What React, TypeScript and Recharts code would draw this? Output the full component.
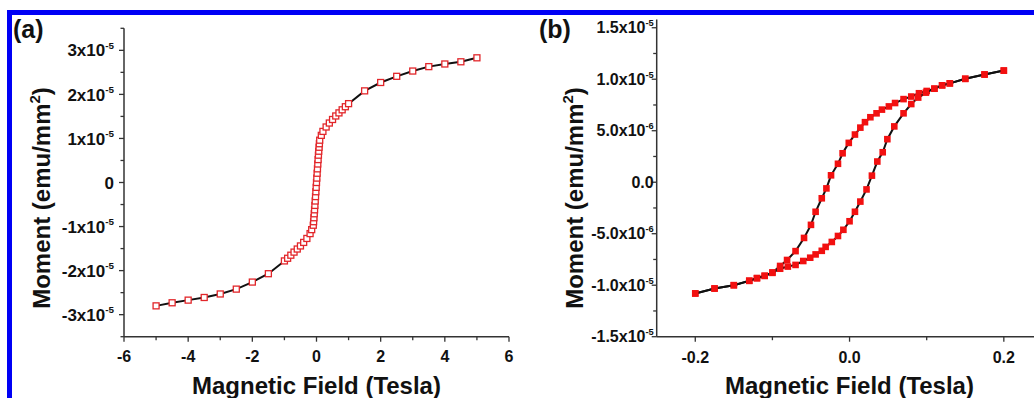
import React from 'react'
import { ScatterChart, Scatter, XAxis, YAxis } from 'recharts'

const FONT = '"Liberation Sans", Arial, Helvetica, sans-serif'
const AXIS = '#333'

// (a) field in tesla, moment in units of 1e-5 emu/mm^2
const fieldA = [-5, -4.5, -4, -3.5, -3, -2.5, -2, -1.5, -1, -0.9, -0.8, -0.7, -0.6, -0.5, -0.4, -0.3, -0.2, -0.15, -0.1, -0.09, -0.08, -0.07, -0.06, -0.05, -0.04, -0.03, -0.02, -0.01, 0, 0.01, 0.02, 0.03, 0.04, 0.05, 0.06, 0.07, 0.08, 0.09, 0.1, 0.15, 0.2, 0.3, 0.4, 0.5, 0.6, 0.7, 0.8, 0.9, 1, 1.5, 2, 2.5, 3, 3.5, 4, 4.5, 5]
const momentA = [-2.8, -2.73, -2.67, -2.61, -2.53, -2.42, -2.26, -2.07, -1.78, -1.72, -1.65, -1.58, -1.51, -1.44, -1.36, -1.27, -1.16, -1.07, -0.97, -0.89, -0.8, -0.71, -0.62, -0.52, -0.42, -0.32, -0.21, -0.11, 0, 0.1, 0.21, 0.31, 0.42, 0.52, 0.62, 0.71, 0.8, 0.88, 0.96, 1.07, 1.16, 1.26, 1.35, 1.43, 1.51, 1.58, 1.65, 1.72, 1.79, 2.08, 2.27, 2.41, 2.53, 2.63, 2.69, 2.74, 2.83]

// (b) moment in units of 1e-6 emu/mm^2, descending then ascending branch
const fieldDown = [0.2, 0.175, 0.15, 0.13, 0.12, 0.11, 0.1, 0.09, 0.08, 0.07, 0.059, 0.051, 0.042, 0.035, 0.027, 0.02, 0.014, 0.007, -0.001, -0.009, -0.015, -0.024, -0.03, -0.036, -0.044, -0.05, -0.059, -0.07, -0.081, -0.09, -0.1, -0.11, -0.12, -0.13, -0.15, -0.175, -0.2]
const momentDown = [10.84, 10.46, 10.04, 9.6, 9.41, 9.08, 8.86, 8.64, 8.32, 8.07, 7.69, 7.36, 7.05, 6.69, 6.31, 5.83, 5.3, 4.63, 3.82, 2.81, 1.79, 0.67, -0.6, -1.56, -2.87, -4.14, -5.41, -6.69, -7.55, -8.13, -8.76, -9.08, -9.3, -9.56, -10.0, -10.32, -10.8]
const fieldUp = [-0.2, -0.175, -0.15, -0.13, -0.12, -0.11, -0.1, -0.09, -0.08, -0.07, -0.06, -0.051, -0.044, -0.036, -0.031, -0.023, -0.015, -0.008, 0, 0.007, 0.014, 0.022, 0.029, 0.036, 0.043, 0.049, 0.058, 0.07, 0.08, 0.089, 0.099, 0.11, 0.12, 0.13, 0.15, 0.175, 0.2]
const momentUp = [-10.8, -10.32, -10.0, -9.58, -9.33, -9.1, -8.8, -8.4, -8.19, -8.03, -7.65, -7.33, -7.01, -6.66, -6.28, -5.8, -5.22, -4.62, -3.79, -2.87, -1.88, -0.7, 0.64, 2.01, 2.91, 4.18, 5.42, 6.69, 7.59, 8.22, 8.7, 9.08, 9.41, 9.6, 10.04, 10.46, 10.84]

// axis ticks
const xTicksA = [-6, -5, -4, -3, -2, -1, 0, 1, 2, 3, 4, 5, 6]
const xMajorA = [-6, -4, -2, 0, 2, 4, 6]
const xTextA = ['-6', '-4', '-2', '0', '2', '4', '6']
const yTicksA = [-3.5, -3, -2.5, -2, -1.5, -1, -0.5, 0, 0.5, 1, 1.5, 2, 2.5, 3, 3.5]
const yMajorA = [-3, -2, -1, 0, 1, 2, 3]
const yTextA = ['-3x10', '-2x10', '-1x10', '0', '1x10', '2x10', '3x10']
const yExpA = ['-5', '-5', '-5', '', '-5', '-5', '-5']

const xTicksB = [-0.2, -0.1, 0, 0.1, 0.2]
const xMajorB = [-0.2, 0, 0.2]
const xTextB = ['-0.2', '0.0', '0.2']
const yTicksB = [-15, -12.5, -10, -7.5, -5, -2.5, 0, 2.5, 5, 7.5, 10, 12.5, 15]
const yMajorB = [-15, -10, -5, 0, 5, 10, 15]
const yTextB = ['-1.5x10', '-1.0x10', '-5.0x10', '0.0', '5.0x10', '1.0x10', '1.5x10']
const yExpB = ['-5', '-5', '-6', '', '-6', '-5', '-5']

const toPoints = (xs: number[], ys: number[]) => xs.map((h, i) => ({ h, m: ys[i] }))

const pointsA = toPoints(fieldA, momentA)
const pointsDown = toPoints(fieldDown, momentDown)
const pointsUp = toPoints(fieldUp, momentUp)

function yTick(major: number[], text: string[], exp: string[], size: number, gap: number) {
  return (props: any) => {
    const { x, y, payload } = props
    const i = major.indexOf(payload.value)
    const len = i >= 0 ? 5 : 3.5
    return (
      <g>
        <line x1={x - len} y1={y} x2={x} y2={y} stroke={AXIS} strokeWidth={1.3} />
        {i >= 0 && (
          <text x={x - gap} y={y + size * 0.36} textAnchor="end" fontFamily={FONT} fontWeight="bold" fontSize={size} fill="#111">
            {text[i]}
            {exp[i] && (
              <tspan fontSize={size * 0.58} dy={-size * 0.45}>
                {exp[i]}
              </tspan>
            )}
          </text>
        )}
      </g>
    )
  }
}

function xTick(major: number[], text: string[], size: number, dy: number) {
  return (props: any) => {
    const { x, y, payload } = props
    const i = major.indexOf(payload.value)
    const len = i >= 0 ? 5 : 3.5
    return (
      <g>
        <line x1={x} y1={y} x2={x} y2={y + len} stroke={AXIS} strokeWidth={1.3} />
        {i >= 0 && (
          <text x={x} y={y + dy} textAnchor="middle" fontFamily={FONT} fontWeight="bold" fontSize={size} fill="#111">
            {text[i]}
          </text>
        )}
      </g>
    )
  }
}

const openSquare = (p: any) => (
  <rect x={p.cx - 3} y={p.cy - 3} width={6} height={6} fill="#fff" stroke="#e2262a" strokeWidth={1.3} />
)

const filledSquare = (p: any) => (
  <rect x={p.cx - 3.3} y={p.cy - 3.3} width={6.6} height={6.6} fill="#f21010" />
)

const axisLine = { stroke: AXIS, strokeWidth: 1.5 }
const seriesLine = { stroke: '#111', strokeWidth: 2 }
const titleStyle = { fontFamily: FONT, fontWeight: 'bold' as const, fontSize: 24, fill: '#111' }

export default function App() {
  return (
    <div style={{ position: 'absolute', left: 0, top: 0, width: 1034, height: 398, overflow: 'hidden', background: '#fff' }}>
      <style>{'body{margin:0;overflow:hidden}'}</style>

      <div style={{ position: 'absolute', left: 0, top: 0 }}>
        <ScatterChart width={520} height={398} margin={{ top: 28.3, right: 11, bottom: 0, left: 0 }}>
          <XAxis
            type="number"
            dataKey="h"
            domain={[-6, 6]}
            ticks={xTicksA}
            interval={0}
            height={61.3}
            tickSize={0}
            tickMargin={0}
            tickLine={false}
            axisLine={axisLine}
            tick={xTick(xMajorA, xTextA, 16, 25)}
          />
          <YAxis
            type="number"
            dataKey="m"
            domain={[-3.5, 3.5]}
            ticks={yTicksA}
            interval={0}
            width={124}
            tickSize={0}
            tickMargin={0}
            tickLine={false}
            axisLine={axisLine}
            tick={yTick(yMajorA, yTextA, yExpA, 17, 10)}
          />
          <Scatter data={pointsA} line={seriesLine} shape={openSquare} isAnimationActive={false} />
        </ScatterChart>
      </div>

      <div style={{ position: 'absolute', left: 520, top: 0 }}>
        <ScatterChart width={540} height={398} margin={{ top: 19.5, right: 17.6, bottom: 0, left: 0 }}>
          <XAxis
            type="number"
            dataKey="h"
            domain={[-0.25, 0.25]}
            ticks={xTicksB}
            interval={0}
            height={61.3}
            tickSize={0}
            tickMargin={0}
            tickLine={false}
            axisLine={axisLine}
            tick={xTick(xMajorB, xTextB, 16, 26)}
          />
          <YAxis
            type="number"
            dataKey="m"
            domain={[-15, 15.8]}
            ticks={yTicksB}
            interval={0}
            width={136.7}
            tickSize={0}
            tickMargin={0}
            tickLine={false}
            axisLine={axisLine}
            tick={yTick(yMajorB, yTextB, yExpB, 16, 3)}
          />
          <Scatter data={pointsDown} line={seriesLine} shape={filledSquare} isAnimationActive={false} />
          <Scatter data={pointsUp} line={seriesLine} shape={filledSquare} isAnimationActive={false} />
        </ScatterChart>
      </div>

      <svg width={1034} height={398} style={{ position: 'absolute', left: 0, top: 0, pointerEvents: 'none' }}>
        <rect x={7} y={10} width={1027} height={5} fill="#0000f5" />
        <rect x={7} y={10} width={5} height={388} fill="#0000f5" />

        <text x={13} y={38} fontFamily={FONT} fontWeight="bold" fontSize={25} fill="#111">(a)</text>
        <text x={539} y={38} fontFamily={FONT} fontWeight="bold" fontSize={25} fill="#111">(b)</text>

        <text x={316.5} y={394} textAnchor="middle" {...titleStyle}>Magnetic Field (Tesla)</text>
        <text x={849.5} y={394} textAnchor="middle" {...titleStyle}>Magnetic Field (Tesla)</text>

        <text transform="translate(50,198) rotate(-90)" textAnchor="middle" {...titleStyle}>
          Moment (emu/mm<tspan fontSize={15} dy={-10}>2</tspan><tspan dy={10}>)</tspan>
        </text>
        <text transform="translate(583,198) rotate(-90)" textAnchor="middle" {...titleStyle}>
          Moment (emu/mm<tspan fontSize={15} dy={-10}>2</tspan><tspan dy={10}>)</tspan>
        </text>
      </svg>
    </div>
  )
}
